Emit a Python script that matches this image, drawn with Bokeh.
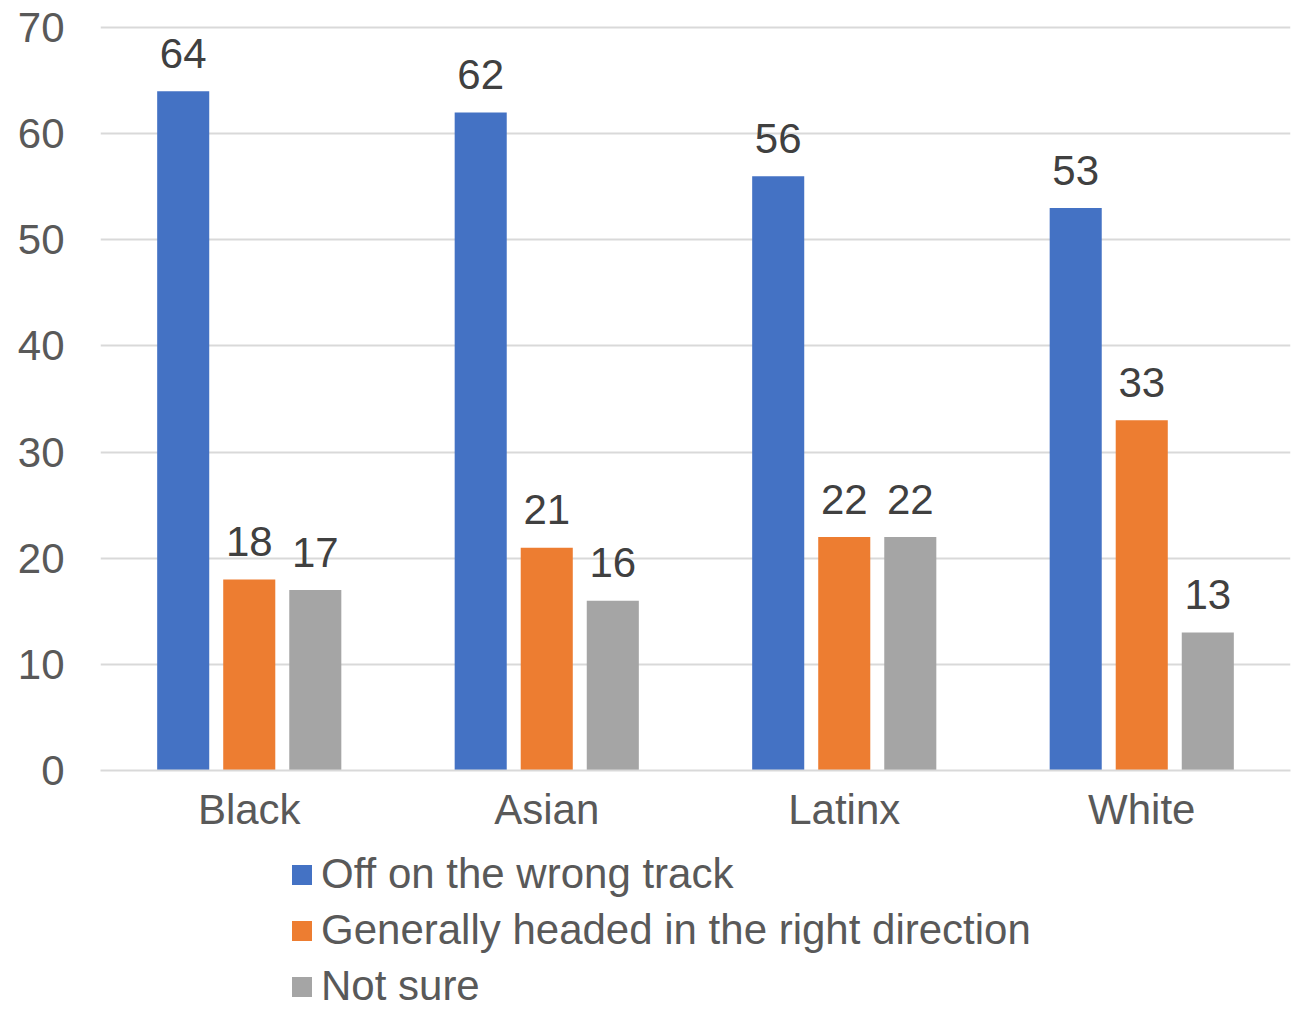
from bokeh.plotting import figure
from bokeh.models import ColumnDataSource, FactorRange, Legend, LegendItem, Range1d, FixedTicker
from bokeh.transform import dodge
from bokeh.layouts import column
from bokeh.core.properties import value
from bokeh.embed import file_html
from bokeh.resources import INLINE

categories = ["Black", "Asian", "Latinx", "White"]
series_names = ["Off on the wrong track", "Generally headed in the right direction", "Not sure"]
wrong_track = [64, 62, 56, 53]
right_direction = [18, 21, 22, 33]
not_sure = [17, 16, 22, 13]
colors = ["#4472C4", "#ED7D31", "#A5A5A5"]
y_ticks = [0, 10, 20, 30, 40, 50, 60, 70]

FONT = "Liberation Sans"
FS = "42px"

source = ColumnDataSource(dict(
    cat=categories,
    s0=wrong_track, s1=right_direction, s2=not_sure,
    l0=[str(v) for v in wrong_track],
    l1=[str(v) for v in right_direction],
    l2=[str(v) for v in not_sure],
))

p = figure(x_range=FactorRange(*categories), y_range=Range1d(0, 70.2),
           width=1299, height=838, output_backend="svg", toolbar_location=None,
           min_border_left=100, min_border_right=9, min_border_top=25, min_border_bottom=68)

offsets = [-0.222, 0.0, 0.222]
for i in range(3):
    p.vbar(x=dodge("cat", offsets[i], range=p.x_range), top=f"s{i}", width=0.175,
           source=source, fill_color=colors[i], line_color=None)
    p.text(x=dodge("cat", offsets[i], range=p.x_range), y=f"s{i}", text=f"l{i}",
           source=source, text_align="center", text_baseline="alphabetic", y_offset=-38,
           text_font_size=FS, text_color="#404040", text_font=value(FONT))

p.outline_line_color = None
p.xgrid.grid_line_color = None
p.ygrid.grid_line_color = "#d9d9d9"
p.ygrid.grid_line_width = 2
p.ygrid.ticker = FixedTicker(ticks=y_ticks)

p.yaxis.ticker = FixedTicker(ticks=y_ticks)
p.yaxis.axis_line_color = None
p.yaxis.major_tick_line_color = None
p.yaxis.minor_tick_line_color = None
p.yaxis.major_label_standoff = 30
p.yaxis.major_label_text_font_size = FS
p.yaxis.major_label_text_color = "#595959"
p.yaxis.major_label_text_font = FONT

p.xaxis.axis_line_color = "#d9d9d9"
p.xaxis.axis_line_width = 2
p.xaxis.major_tick_line_color = None
p.xaxis.minor_tick_line_color = None
p.xaxis.major_label_standoff = 9
p.xaxis.major_label_text_font_size = FS
p.xaxis.major_label_text_color = "#595959"
p.xaxis.major_label_text_font = FONT

# legend strip: same bars drawn into a view window above the data, so only the legend shows
lg = figure(width=1299, height=172, output_backend="svg", toolbar_location=None,
            x_range=FactorRange(*categories), y_range=Range1d(100, 101),
            x_axis_type=None, y_axis_type=None,
            min_border_left=0, min_border_right=0, min_border_top=0, min_border_bottom=0)
lg.outline_line_color = None
lg.grid.grid_line_color = None
legend_renderers = []
for i in range(3):
    r = lg.vbar(x=dodge("cat", offsets[i], range=lg.x_range), top=f"s{i}", width=0.175,
                source=source, fill_color=colors[i], line_color=None)
    legend_renderers.append(r)

items = [LegendItem(label=series_names[i], renderers=[legend_renderers[i]]) for i in range(3)]
legend = Legend(items=items, location=(189, 0), orientation="vertical",
                padding=0, margin=0, border_line_color=None, background_fill_alpha=0,
                glyph_width=25, glyph_height=25, label_standoff=7, spacing=8,
                label_text_font_size=FS, label_text_color="#595959",
                label_text_font=FONT)
lg.add_layout(legend)

layout = column(p, lg, spacing=0)
open("out.html", "w").write(file_html(layout, INLINE))
